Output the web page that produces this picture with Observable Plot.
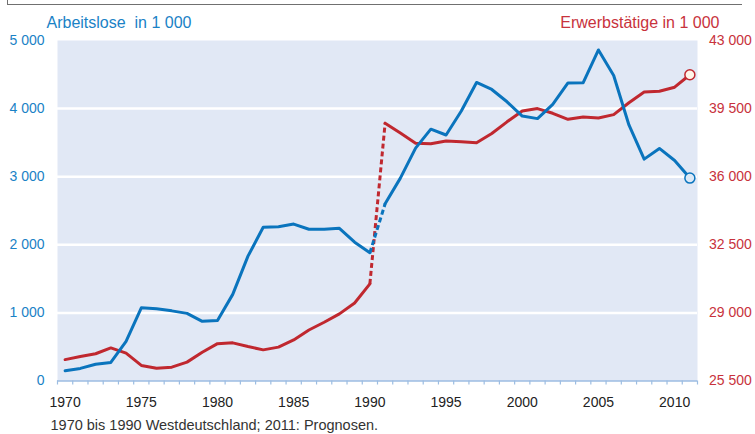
<!DOCTYPE html>
<html><head><meta charset="utf-8">
<script src="https://cdn.jsdelivr.net/npm/d3@7"></script>
<script src="https://cdn.jsdelivr.net/npm/@observablehq/plot@0.6"></script>
<style>
body{margin:0;background:#fff;font-family:"Liberation Sans",Arial,sans-serif}
#wrap{position:relative;width:755px;height:434px;overflow:hidden}
#frame{position:absolute;left:7px;top:-10px;width:734px;height:14px;border-left:1.5px solid #707070;border-bottom:1.5px solid #707070}
#chart{position:absolute;left:0;top:0}
</style></head><body><div id="wrap"><div id="frame"></div><div id="chart"></div></div>
<script>
const years = [1970,1971,1972,1973,1974,1975,1976,1977,1978,1979,1980,1981,1982,1983,1984,1985,1986,1987,1988,1989,1990,1991,1992,1993,1994,1995,1996,1997,1998,1999,2000,2001,2002,2003,2004,2005,2006,2007,2008,2009,2010,2011];
const unemployed = [149,185,246,273,582,1074,1060,1030,993,876,889,1272,1833,2258,2266,2304,2228,2229,2242,2038,1883,2602,2979,3419,3698,3612,3965,4384,4281,4100,3890,3853,4061,4377,4381,4861,4487,3760,3258,3415,3238,2980];
const employed = [26600,26760,26900,27200,26930,26300,26160,26210,26470,26980,27420,27460,27270,27100,27240,27610,28120,28520,28950,29510,30490,38750,38240,37720,37690,37830,37800,37740,38220,38820,39380,39500,39260,38950,39070,39020,39190,39800,40350,40390,40600,41240];
const leftTicks = [0,1000,2000,3000,4000,5000];
const rightTicks = [25500,29000,32500,36000,39500,43000];
const labelYears = [1970,1975,1980,1985,1990,1995,2000,2005,2010];
const titleLeft = "Arbeitslose\u00a0 in 1 000";
const titleRight = "Erwerbstätige in 1 000";
const footnote = "1970 bis 1990 Westdeutschland; 2011: Prognosen.";

const blue = "#0a74bd", red = "#c0282f";
const fmt = v => d3.format(",")(v).replace(/,/g, " ");
const rMin = rightTicks[0], rMax = rightTicks[rightTicks.length-1];
const toLeft = v => (v - rMin) / (rMax - rMin) * 5000;
const rows = years.map((y,i)=>({year:y, u:unemployed[i], e:toLeft(employed[i])}));
const west = rows.filter(d=>d.year<=1990);
const unified = rows.filter(d=>d.year>=1991);
const bridge = rows.filter(d=>d.year>=1990 && d.year<=1991);
const last = [rows[rows.length-1]];
const tickPos = years.map(y=>y-0.5).concat([years[years.length-1]+0.5]);

const chart = Plot.plot({
  width:755, height:434, marginTop:40, marginBottom:53.5, marginLeft:57, marginRight:58,
  style:{fontFamily:"'Liberation Sans', Arial, sans-serif", fontSize:"14px", background:"transparent", overflow:"visible"},
  x:{domain:[1969.5,2011.5], axis:null},
  y:{domain:[0,5000], axis:null, label:null},
  marks:[
    Plot.frame({fill:"#e1e8f5", stroke:null}),
    Plot.ruleY([1000,2000,3000,4000],{stroke:"white", strokeWidth:2.5}),
    Plot.ruleY([0],{stroke:"#9cbde2", strokeWidth:1.5}),
    Plot.axisX({ticks:tickPos, tickSize:4, tickFormat:()=>"", stroke:"#9cbde2", strokeWidth:1.2, label:null}),
    Plot.axisX({ticks:labelYears, tickSize:0, tickPadding:16, color:"#222", fill:"#222", fontSize:14, tickFormat:d=>String(d), label:null}),
    Plot.axisY({ticks:leftTicks, tickSize:0, tickPadding:13, color:"#1a82c6", fill:"#1a82c6", fontSize:14, tickFormat:fmt, label:null}),
    Plot.axisY({anchor:"right", ticks:leftTicks, tickSize:0, tickPadding:11.5, color:"#c8323c", fill:"#c8323c", fontSize:14, tickFormat:d=>fmt(rMin + d/5000*(rMax-rMin)), label:null}),
    Plot.line(west,{x:"year", y:"e", stroke:red, strokeWidth:3}),
    Plot.line(unified,{x:"year", y:"e", stroke:red, strokeWidth:3}),
    Plot.line(bridge,{x:"year", y:"e", stroke:red, strokeWidth:3, strokeDasharray:"5,3", strokeLinecap:"butt"}),
    Plot.line(west,{x:"year", y:"u", stroke:blue, strokeWidth:3}),
    Plot.line(unified,{x:"year", y:"u", stroke:blue, strokeWidth:3}),
    Plot.line(bridge,{x:"year", y:"u", stroke:blue, strokeWidth:3, strokeDasharray:"5,3", strokeLinecap:"butt"}),
    Plot.dot(last,{x:"year", y:"u", r:5, fill:"#dce9f6", stroke:blue, strokeWidth:1.5}),
    Plot.dot(last,{x:"year", y:"e", r:5, fill:"#fff5e8", stroke:red, strokeWidth:1.5}),
    Plot.text([titleLeft],{frameAnchor:"top-left", lineAnchor:"middle", dx:-11, dy:-18, textAnchor:"start", fill:"#1a82c6", fontSize:16}),
    Plot.text([titleRight],{frameAnchor:"top-right", lineAnchor:"middle", dx:22, dy:-18, textAnchor:"end", fill:"#c8323c", fontSize:16}),
    Plot.text([footnote],{frameAnchor:"bottom-left", lineAnchor:"middle", dx:-7, dy:44.5, textAnchor:"start", fill:"#333", fontSize:14.5})
  ]
});
document.getElementById("chart").appendChild(chart);
</script>
</body></html>
